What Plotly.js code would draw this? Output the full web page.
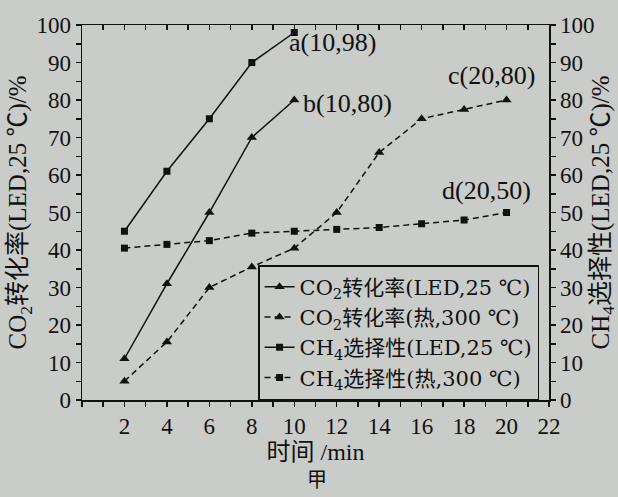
<!DOCTYPE html>
<html>
<head>
<meta charset="utf-8">
<script src="https://cdn.plot.ly/plotly-3.0.1.min.js"></script>
<style>html,body{margin:0;padding:0;background:#c9ccc8;}#chart{width:618px;height:497px;}</style>
</head>
<body>
<div id="chart"></div>
<script>
// Data
const timeShort = [2, 4, 6, 8, 10];
const timeLong = [2, 4, 6, 8, 10, 12, 14, 16, 18, 20];
const seriesA = [45, 61, 75, 90, 98];          // solid, squares  -> a(10,98)
const seriesB = [11, 31, 50, 70, 80];          // solid, triangles -> b(10,80)
const seriesC = [5, 15.5, 30, 35.5, 40.5, 50, 66, 75, 77.5, 80]; // dashed triangles -> c(20,80)
const seriesD = [40.5, 41.5, 42.5, 44.5, 45, 45.5, 46, 47, 48, 50]; // dashed squares -> d(20,50)
const legendNames = [
  'CO<sub>2</sub>转化率(LED,25 ℃)',
  'CO<sub>2</sub>转化率(热,300 ℃)',
  'CH<sub>4</sub>选择性(LED,25 ℃)',
  'CH<sub>4</sub>选择性(热,300 ℃)'
];
const xTickVals = [2, 4, 6, 8, 10, 12, 14, 16, 18, 20, 22];
const yTickVals = [0, 10, 20, 30, 40, 50, 60, 70, 80, 90, 100];
const pointLabels = ['a(10,98)', 'b(10,80)', 'c(20,80)', 'd(20,50)'];

const FONT = 'Liberation Serif, Noto Sans CJK SC, serif';
const LEGEND_FONT = 'DejaVu Serif, Noto Sans CJK SC, serif';
const INK = '#111';

const traces = [
  {x: timeShort, y: seriesB, name: legendNames[0], legendgroup: 'g1', mode: 'lines+markers',
   line: {color: INK, width: 1.5}, marker: {symbol: 'triangle-up', size: 9, color: INK}},
  {x: timeLong, y: seriesC, name: legendNames[1], legendgroup: 'g2', mode: 'lines+markers',
   line: {color: INK, width: 1.5, dash: '6px,4px'}, marker: {symbol: 'triangle-up', size: 9, color: INK}},
  {x: timeShort, y: seriesA, name: legendNames[2], legendgroup: 'g3', mode: 'lines+markers',
   line: {color: INK, width: 1.5}, marker: {symbol: 'square', size: 7, color: INK}},
  {x: timeLong, y: seriesD, name: legendNames[3], legendgroup: 'g4', mode: 'lines+markers',
   line: {color: INK, width: 1.5, dash: '6px,4px'}, marker: {symbol: 'square', size: 7, color: INK}},
  {x: timeLong, y: seriesD, yaxis: 'y2', mode: 'markers', marker: {opacity: 0}, showlegend: false, hoverinfo: 'skip'},
  {x: timeLong, y: seriesD, xaxis: 'x2', mode: 'markers', marker: {opacity: 0}, showlegend: false, hoverinfo: 'skip'}
];

const axisCommon = {
  showline: true, linecolor: INK, linewidth: 1.5, showgrid: false, zeroline: false,
  ticks: 'outside', ticklen: 5, tickwidth: 1.5, tickcolor: INK,
  tickfont: {family: FONT, size: 23, color: INK}
};

const layout = {
  width: 618, height: 497,
  margin: {l: 82, r: 69, t: 25, b: 97},
  paper_bgcolor: '#c9ccc8', plot_bgcolor: '#c9ccc8',
  font: {family: FONT, color: INK},
  showlegend: true,
  legend: {
    x: 0.377, y: 0, xanchor: 'left', yanchor: 'bottom',
    bordercolor: INK, borderwidth: 1.5, bgcolor: 'rgba(0,0,0,0)',
    font: {family: LEGEND_FONT, size: 21, color: INK},
    tracegroupgap: 0, itemwidth: 30
  },
  xaxis: Object.assign({}, axisCommon, {
    range: [0, 22], tickvals: xTickVals, ticklabelstandoff: 0,
    minor: {dtick: 1, ticks: 'outside', ticklen: 5, tickwidth: 1.5, tickcolor: INK},
    title: {text: '时间 /min', font: {family: FONT, size: 24, color: INK}, standoff: 4}
  }),
  xaxis2: Object.assign({}, axisCommon, {
    range: [0, 22], overlaying: 'x', side: 'top', showticklabels: false,
    ticks: 'inside', tickvals: xTickVals,
    minor: {dtick: 1, ticks: 'inside', ticklen: 5, tickwidth: 1.5, tickcolor: INK}
  }),
  yaxis: Object.assign({}, axisCommon, {
    range: [0, 100], tickvals: yTickVals,
    minor: {dtick: 5, ticks: 'outside', ticklen: 5, tickwidth: 1.5, tickcolor: INK},
    title: {text: 'CO<sub>2</sub>转化率(LED,25 ℃)/%', font: {family: FONT, size: 25, color: INK}, standoff: 2}
  }),
  yaxis2: Object.assign({}, axisCommon, {
    range: [0, 100], tickvals: yTickVals, overlaying: 'y', side: 'right',
    minor: {dtick: 5, ticks: 'outside', ticklen: 5, tickwidth: 1.5, tickcolor: INK},
    title: {text: 'CH<sub>4</sub>选择性(LED,25 ℃)/%', font: {family: FONT, size: 25, color: INK}, standoff: 0}
  }),
  annotations: [
    {x: timeShort[4], y: seriesA[4], text: pointLabels[0], showarrow: false, xanchor: 'left', yanchor: 'middle', xshift: -7, yshift: -10, font: {family: FONT, size: 26, color: INK}},
    {x: timeShort[4], y: seriesB[4], text: pointLabels[1], showarrow: false, xanchor: 'left', yanchor: 'middle', xshift: 7, yshift: -3, font: {family: FONT, size: 26, color: INK}},
    {x: timeLong[9], y: seriesC[9], text: pointLabels[2], showarrow: false, xanchor: 'center', yanchor: 'middle', xshift: -15, yshift: 25, font: {family: FONT, size: 26, color: INK}},
    {x: timeLong[9], y: seriesD[9], text: pointLabels[3], showarrow: false, xanchor: 'center', yanchor: 'middle', xshift: -20, yshift: 22, font: {family: FONT, size: 26, color: INK}},
    {xref: 'paper', yref: 'paper', x: 0.504, y: -0.213, text: '甲', showarrow: false, xanchor: 'center', yanchor: 'middle', font: {family: FONT, size: 20, color: INK}}
  ]
};

Plotly.newPlot('chart', traces, layout, {displayModeBar: false, staticPlot: true});
</script>
</body>
</html>
